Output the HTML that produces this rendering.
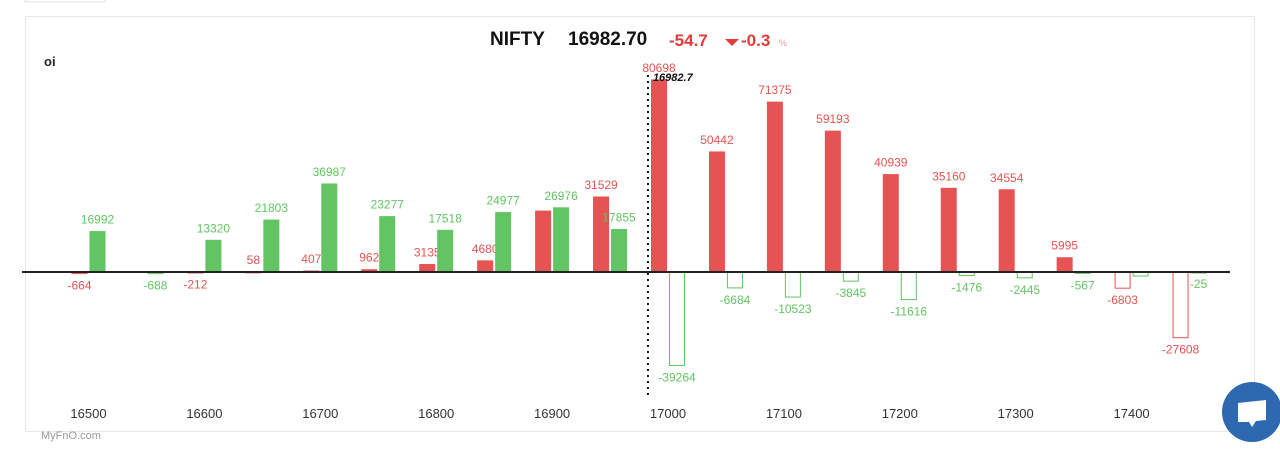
<!DOCTYPE html>
<html><head><meta charset="utf-8"><style>
body{margin:0;background:#fff;width:1280px;height:450px;overflow:hidden;font-family:"Liberation Sans",sans-serif}
svg{position:absolute;left:0;top:0}
</style></head><body>
<svg id="c" width="1280" height="450">
<rect x="25" y="-2" width="80" height="4" fill="#fff" stroke="#e3e3e3"/>
<rect x="25.5" y="16.5" width="1229" height="415" fill="#fff" stroke="#e6e6e6"/>
<text x="44" y="66" font-size="13" font-weight="bold" fill="#222">oi</text>
<g font-weight="bold" font-size="19">
<text x="490" y="45" fill="#111">NIFTY</text>
<text x="568" y="45" fill="#111">16982.70</text>
<text x="669" y="46" fill="#e23b3b" font-size="17">-54.7</text>
<path d="M725,39 L739,39 L732,46 Z" fill="#e23b3b"/>
<text x="741" y="46" fill="#e23b3b" font-size="17">-0.3</text>
<text x="779" y="46" fill="#f0a0a0" font-size="9" font-weight="normal">%</text>
</g>
<text x="41" y="439" font-size="11" fill="#999">MyFnO.com</text>
<g id="bars"></g>
<circle cx="1252" cy="412" r="30" fill="#2e69b0"/>
<path d="M1238,403 L1266,400 L1266,420 L1256,421 L1252,427 L1249,422 L1238,422 Z" fill="#fff"/>
</svg>
<script>
const strikes=[16500,16550,16600,16650,16700,16750,16800,16850,16900,16950,17000,17050,17100,17150,17200,17250,17300,17350,17400,17450];
const callOi=[-664,null,-212,58,407,962,3135,4680,25600,31529,80698,50442,71375,59193,40939,35160,34554,5995,-6803,-27608];
const putOi=[16992,-688,13320,21803,36987,23277,17518,24977,26976,17855,-39264,-6684,-10523,-3845,-11616,-1476,-2445,-567,-1700,-25];
const callLabels=["-664",null,"-212","58","407","962","3135","4680",null,"31529","80698","50442","71375","59193","40939","35160","34554","5995","-6803","-27608"];
const putLabels=["16992","-688","13320","21803","36987","23277","17518","24977","26976","17855","-39264","-6684","-10523","-3845","-11616","-1476","-2445","-567",null,"-25"];
const tickLabels=[16500,16600,16700,16800,16900,17000,17100,17200,17300,17400];
const spot=16982.7;
const NS="http://www.w3.org/2000/svg";
const g=document.getElementById('bars');
const x=s=>88.5+(s-16500)/50*57.95;
const y=v=>272-v*0.00238;
function mk(t,a){const e=document.createElementNS(NS,t);for(const k in a)e.setAttribute(k,a[k]);g.appendChild(e);return e;}
const RED="#e55353",GREEN="#62c462";
function bar(i,v,lab,isCall){
  if(v==null)return;
  const col=isCall?RED:GREEN;
  const bx=isCall?x(strikes[i])-17:x(strikes[i])+1;
  const top=Math.min(y(v),y(0)),h=Math.max(Math.abs(y(v)-y(0)),1);
  const r=mk('rect',{x:bx+0.5,y:top,width:15,height:h,fill:v<0?'#fff':col,stroke:col,'stroke-width':1});
  
  
  if(lab){
    const ty=v>=0?y(v)-8:y(v)+16;
    const t=mk('text',{x:bx+8,y:ty,'font-size':12,fill:col,'text-anchor':'middle'});
    t.textContent=lab;
    
    
  }
}
strikes.forEach((s,i)=>{bar(i,callOi[i],callLabels[i],true);bar(i,putOi[i],putLabels[i],false);});
const ax=mk('line',{x1:22,x2:1230,y1:272,y2:272,stroke:'#222','stroke-width':2});


tickLabels.forEach(t=>{const e=mk('text',{x:x(t),y:418,'font-size':13,fill:'#333','text-anchor':'middle'});e.textContent=t;

});
const sl=mk('line',{x1:x(spot),x2:x(spot),y1:75,y2:396,stroke:'#111','stroke-width':2,'stroke-dasharray':'2,4'});


const st=mk('text',{x:x(spot)+5,y:81,'font-size':11,'font-weight':'bold','font-style':'italic',fill:'#111'});
st.textContent=spot.toFixed(1);


</script>
</body></html>
